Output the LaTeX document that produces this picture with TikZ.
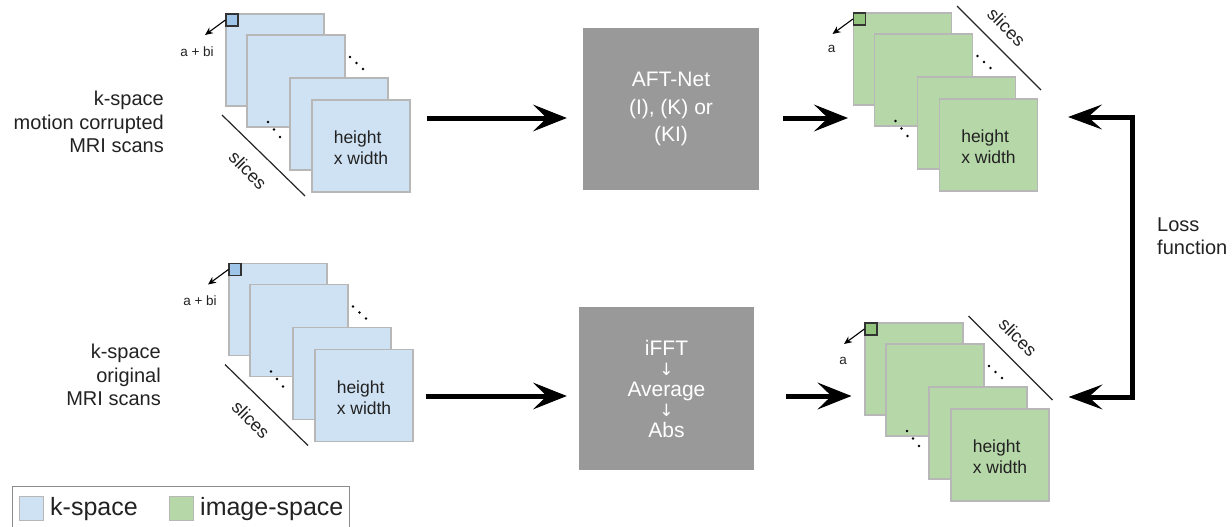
\documentclass[tikz,border=0pt]{standalone}
\usepackage{fontspec}
\setmainfont{Liberation Sans}
\newfontfamily\arrowfont{DejaVu Sans}
\usetikzlibrary{arrows.meta}
\definecolor{kfill}{HTML}{CFE2F3}
\definecolor{kdark}{HTML}{9FC5E8}
\definecolor{gfill}{HTML}{B6D7A8}
\definecolor{gdark}{HTML}{93C47D}
\definecolor{sliceedge}{HTML}{B7B7B7}
\definecolor{procgray}{HTML}{999999}
\definecolor{txt}{HTML}{222222}
\tikzset{
 slicebox/.style={draw=sliceedge, line width=1.2pt, minimum width=98pt, minimum height=92pt, inner sep=0pt},
 pixbox/.style={draw=black!80, line width=1.2pt, minimum size=12pt, inner sep=0pt},
 pixarrow/.style={line width=1.1pt, -{Stealth[length=8pt,width=7pt]}},
 smalltxt/.style={font=\fontsize{13.5}{15}\selectfont, inner sep=0pt, text=txt},
 hwtxt/.style={font=\fontsize{17.5}{21}\selectfont, align=left, inner sep=0pt, text=txt},
 slicetxt/.style={font=\fontsize{18}{20}\selectfont, rotate=-45, inner sep=0pt, text=txt},
 sliceline/.style={line width=1.2pt, draw=black!85},
 procbox/.style={fill=procgray, minimum width=176pt, minimum height=162pt, text=white, align=center, inner sep=0pt, font=\fontsize{21}{27.5}\selectfont},
 bigarrow/.style={line width=5pt, -{Stealth[length=34pt,width=27pt,inset=14pt,line width=1pt]}},
 bigboth/.style={line width=5pt, {Stealth[length=34pt,width=25pt,inset=14pt,line width=1pt]}-{Stealth[length=34pt,width=25pt,inset=14pt,line width=1pt]}},
 lbl/.style={font=\fontsize{20}{23.5}\selectfont, inner sep=0pt, text=txt},
 legtxt/.style={font=\fontsize{25}{28}\selectfont, inner sep=0pt, text=txt},
 swatch/.style={draw=sliceedge, line width=1pt, minimum size=24pt, inner sep=0pt},
}
% #1 prefix, #2 x, #3 y, #4 family (k/g), #5 pixel label, #6 label pos,
% #7 slices line start, #8 slices line end, #9 slices text pos
\newcommand{\slicestack}[9]{%
 \begin{scope}[shift={(#2,#3)}]
  \node[slicebox,fill=#4fill] (#1a) at (0,0) {};
  \node[slicebox,fill=#4fill] (#1b) at (21,21) {};
  \node[slicebox,fill=#4fill] (#1c) at (64,64) {};
  \node[slicebox,fill=#4fill] (#1d) at (86,86) {};
  \node[hwtxt] (#1hw) at (86,88) {height\\x width};
  \node[pixbox,fill=#4dark,anchor=north west] (#1p) at (#1a.north west) {};
  \coordinate (#1tip) at (-70,-25);
  \draw[pixarrow] (#1p.west) -- (#1tip);
  \node[smalltxt] (#1lab) at (#6) {#5};
  \fill (75,-3) circle (1.4pt) (81.5,3) circle (1.4pt) (88,9) circle (1.4pt);
  \fill (-7,62) circle (1.4pt) (-1,69.5) circle (1.4pt) (5,77) circle (1.4pt);
  \coordinate (#1ls) at (#7);
  \coordinate (#1le) at (#8);
  \draw[sliceline] (#1ls) -- (#1le);
  \node[slicetxt] (#1sl) at (#9) {slices};
 \end{scope}}
\begin{document}
\begin{tikzpicture}[x=1pt,y=-1pt]
\useasboundingbox (0,0) rectangle (1232,527);
\clip (0,0) rectangle (1232,527);
% left labels
\node[lbl, anchor=east, align=right] (ltop) at (164,122) {k-space\\motion corrupted\\MRI scans};
\node[lbl, anchor=east, align=right] (lbot) at (161,375) {k-space\\original\\MRI scans};
% stacks
\slicestack{kt}{275}{60}{k}{a + bi}{-78,-8}{-53,55}{30,136}{-27,110}
\slicestack{kb}{278}{309.5}{k}{a + bi}{-78,-9}{-53,55}{30,136}{-27,110}
\slicestack{gt}{902.5}{59}{g}{a}{-71,-10}{54.5,-53}{138.5,31}{104,-32}
\slicestack{gb}{914}{369}{g}{a}{-71,-8}{54.5,-53}{138.5,31}{104,-32}
% processing boxes
\node[procbox] (aft) at (671,109) {AFT-Net\\(I), (K) or\\(KI)};
\node[procbox, minimum width=175pt, minimum height=163pt, font=\fontsize{21}{20.5}\selectfont] (ifft) at (666.5,388.5)
 {iFFT\\{\arrowfont\fontsize{17}{17}\selectfont ↓}\\Average\\{\arrowfont\fontsize{17}{17}\selectfont ↓}\\Abs};
% arrows
\coordinate (toprow) at (0,118);
\coordinate (botrow) at (0,396);
\draw[bigarrow, shorten <=16pt, shorten >=16pt] (ktd.east |- toprow) -- (aft.west |- toprow);
\draw[bigarrow, shorten <=24pt, shorten >=5pt] (aft.east |- toprow) -- (gta.west |- toprow);
\draw[bigarrow, shorten <=12pt, shorten >=12pt] (kbd.east |- botrow) -- (ifft.west |- botrow);
\draw[bigarrow, shorten <=32pt, shorten >=13pt] (ifft.east |- botrow) -- (gba.west |- botrow);
% loss bracket
\coordinate (lt) at (1132,117);
\coordinate (lb) at (1132,397);
\draw[bigboth, shorten <=30pt, shorten >=19pt] (gtd.east |- lt) -- (lt) -- (lb) -- (gbd.east |- lb);
\node[lbl, anchor=west, align=left] (loss) at (1157,236) {Loss\\function};
% legend
\node[draw=black!45, line width=1.2pt, minimum width=337pt, minimum height=70pt, anchor=north west, inner sep=0pt] (legend) at (12,486) {};
\node[swatch, fill=kfill] (kswatch) at (31,508) {};
\node[legtxt, anchor=west] (ktext) at (50,509) {k-space};
\node[swatch, fill=gfill] (gswatch) at (181.5,508) {};
\node[legtxt, anchor=west] (gtext) at (200,509) {image-space};
\end{tikzpicture}
\end{document}
